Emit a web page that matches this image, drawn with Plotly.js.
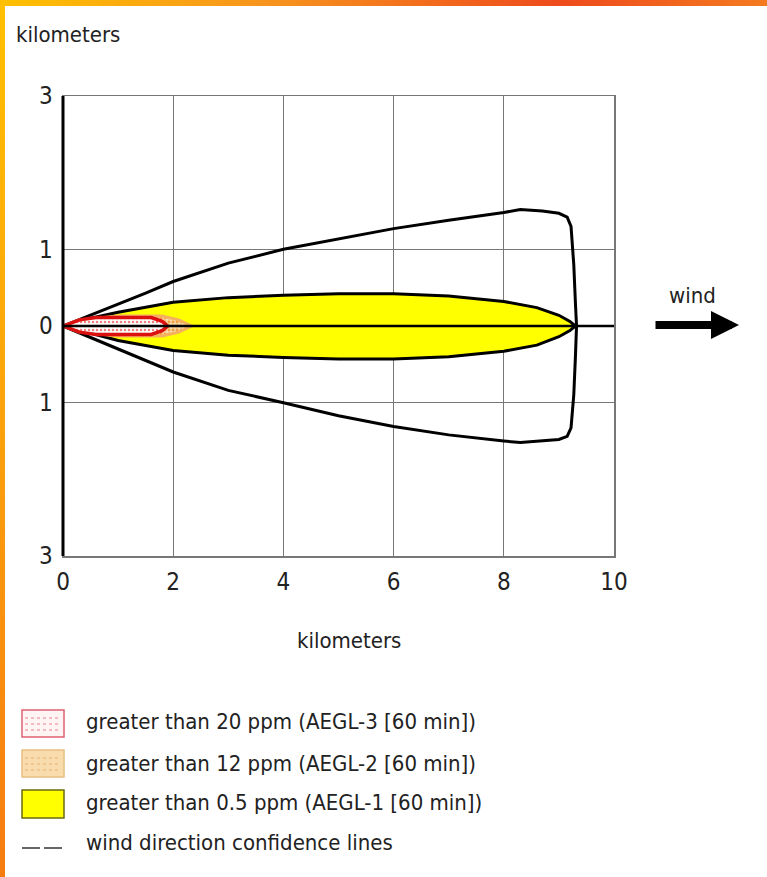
<!DOCTYPE html>
<html>
<head>
<meta charset="utf-8">
<script src="https://cdn.plot.ly/plotly-3.0.1.min.js"></script>
<style>
  html, body { margin: 0; padding: 0; background: #fff; }
  #wrap { position: relative; width: 767px; height: 877px; overflow: hidden; }
  #chart { position: absolute; left: 0; top: 0; width: 767px; height: 877px; }
  #topbar { position: absolute; left: 0; top: 0; width: 767px; height: 6px;
    background: linear-gradient(to right, #ffc000 0%, #f7941d 35%, #ee4a1c 73%, #f47a20 100%); z-index: 5; }
  #leftbar { position: absolute; left: 0; top: 0; width: 5px; height: 877px;
    background: linear-gradient(to bottom, #ffc000 0%, #fba40c 45%, #f67c10 100%); z-index: 5; }
</style>
</head>
<body>
<div id="wrap">
  <div id="chart"></div>
  <div id="topbar"></div>
  <div id="leftbar"></div>
</div>
<script>
// Wind direction confidence lines (closed outline), km
const confX = [0, 0.5, 1, 1.5, 2, 3, 4, 5, 6, 7, 8, 8.3, 8.7, 9.0, 9.15, 9.22, 9.27, 9.3, 9.32, 9.3, 9.27, 9.22, 9.15, 9.0, 8.7, 8.3, 8, 7, 6, 5, 4, 3, 2, 1.5, 1, 0.5, 0];
const confY = [0, 0.14, 0.28, 0.43, 0.58, 0.82, 1.0, 1.14, 1.27, 1.38, 1.48, 1.52, 1.5, 1.47, 1.42, 1.3, 0.8, 0.3, 0, -0.4, -0.9, -1.33, -1.44, -1.48, -1.5, -1.52, -1.5, -1.42, -1.31, -1.17, -1.0, -0.84, -0.6, -0.45, -0.3, -0.15, 0];

// AEGL-1 (> 0.5 ppm) plume
const aegl1X = [0, 0.5, 1, 2, 3, 4, 5, 6, 7, 8, 8.6, 9.0, 9.2, 9.3, 9.2, 9.0, 8.6, 8, 7, 6, 5, 4, 3, 2, 1, 0.5, 0];
const aegl1Y = [0, 0.1, 0.18, 0.31, 0.37, 0.40, 0.42, 0.42, 0.39, 0.32, 0.24, 0.14, 0.06, 0, -0.06, -0.14, -0.25, -0.33, -0.4, -0.43, -0.43, -0.41, -0.38, -0.32, -0.19, -0.1, 0];

// AEGL-2 (> 12 ppm) plume
const aegl2X = [0, 0.3, 1, 1.8, 2.1, 2.34, 2.1, 1.8, 1, 0.3, 0];
const aegl2Y = [0, 0.08, 0.13, 0.13, 0.08, 0, -0.08, -0.13, -0.13, -0.08, 0];

// AEGL-3 (> 20 ppm) plume
const aegl3X = [0, 0.3, 0.6, 1.6, 1.8, 1.9, 1.8, 1.6, 0.6, 0.3, 0];
const aegl3Y = [0, 0.08, 0.11, 0.11, 0.06, 0, -0.06, -0.11, -0.11, -0.08, 0];

// Centerline (wind axis)
const centerX = [0, 10];
const centerY = [0, 0];

// Axis ticks
const xTicks = [0, 2, 4, 6, 8, 10];
const yTickVals = [-3, -1, 0, 1, 3];
const yTickText = ['3', '1', '0', '1', '3'];

// Legend labels
const legendLabels = [
  'greater than 20 ppm (AEGL-3 [60 min])',
  'greater than 12 ppm (AEGL-2 [60 min])',
  'greater than 0.5 ppm (AEGL-1 [60 min])',
  'wind direction confidence lines'
];

const FONT = 'DejaVu Sans Condensed, DejaVu Sans, Verdana, sans-serif';
const TXT = '#222';

const traces = [
  { x: confX, y: confY, mode: 'lines', line: { color: '#000', width: 3 }, hoverinfo: 'skip', showlegend: false },
  { x: aegl1X, y: aegl1Y, mode: 'lines', fill: 'toself', fillcolor: '#ffff00', line: { color: '#000', width: 3 }, hoverinfo: 'skip', showlegend: false },
  { x: aegl2X, y: aegl2Y, mode: 'lines', fill: 'toself', fillcolor: '#f9d9a0',
    fillpattern: { shape: '.', fgcolor: '#f0a040', bgcolor: '#f9dcae', size: 4, solidity: 0.4 },
    line: { color: '#f5b060', width: 3 }, hoverinfo: 'skip', showlegend: false },
  { x: aegl3X, y: aegl3Y, mode: 'lines', fill: 'toself', fillcolor: '#ffffff',
    fillpattern: { shape: '.', fgcolor: '#f08080', bgcolor: '#ffffff', size: 4, solidity: 0.3 },
    line: { color: '#dd1010', width: 3.5 }, hoverinfo: 'skip', showlegend: false },
  { x: centerX, y: centerY, mode: 'lines', line: { color: '#000', width: 2.5 }, hoverinfo: 'skip', showlegend: false, cliponaxis: false }
];

// plot area: left 63, right 614, top 96, bottom 556
const L = 63, R = 614, T = 96, B = 556;
const px = (p) => (p - L) / (R - L);
const py = (p) => (B - p) / (B - T);

const shapes = [];
const annotations = [];

// legend boxes
const boxRows = [
  { y0: 710, y1: 737, fill: '#fff4f4', line: '#e06070' },
  { y0: 750, y1: 777, fill: '#f8dcae', line: '#e8c080' },
  { y0: 790, y1: 818, fill: '#ffff00', line: '#6b6b10' }
];
boxRows.forEach(b => {
  shapes.push({ type: 'rect', xref: 'paper', yref: 'paper', x0: px(22), x1: px(64), y0: py(b.y1), y1: py(b.y0),
    fillcolor: b.fill, line: { color: b.line, width: 1.5 }, layer: 'above' });
});
// dotted pattern hints inside first two boxes
[[718, '#e88090'], [724, '#e88090'], [730, '#e88090'], [758, '#e8b070'], [764, '#e8b070'], [770, '#e8b070']].forEach(r => {
  shapes.push({ type: 'line', xref: 'paper', yref: 'paper', x0: px(25), x1: px(61), y0: py(r[0]), y1: py(r[0]),
    line: { color: r[1], width: 1, dash: 'dot' }, layer: 'above' });
});
// dashes for wind confidence lines
shapes.push({ type: 'line', xref: 'paper', yref: 'paper', x0: px(22), x1: px(40), y0: py(848), y1: py(848), line: { color: '#333', width: 1.5 } });
shapes.push({ type: 'line', xref: 'paper', yref: 'paper', x0: px(44), x1: px(62), y0: py(848), y1: py(848), line: { color: '#333', width: 1.5 } });

const rowY = [721, 763, 802, 842];
legendLabels.forEach((t, i) => {
  annotations.push({ xref: 'paper', yref: 'paper', x: px(84), y: py(rowY[i]), xanchor: 'left', yanchor: 'middle',
    text: t, showarrow: false, font: { family: FONT, size: 22, color: TXT } });
});

// y-axis title at top-left
annotations.push({ xref: 'paper', yref: 'paper', x: px(14), y: py(35), xanchor: 'left', yanchor: 'middle',
  text: 'kilometers', showarrow: false, font: { family: FONT, size: 22, color: TXT } });

// x-axis title
annotations.push({ xref: 'paper', yref: 'paper', x: px(349), y: py(640), xanchor: 'center', yanchor: 'middle',
  text: 'kilometers', showarrow: false, font: { family: FONT, size: 22, color: TXT } });

// wind label and arrow
annotations.push({ xref: 'paper', yref: 'paper', x: px(692), y: py(295), xanchor: 'center', yanchor: 'middle',
  text: 'wind', showarrow: false, font: { family: FONT, size: 22, color: TXT } });
annotations.push({ xref: 'paper', yref: 'paper', x: px(739), y: py(325), axref: 'pixel', ayref: 'pixel', ax: -85, ay: 0,
  text: '', showarrow: true, arrowhead: 2, arrowsize: 0.7, arrowwidth: 8, arrowcolor: '#000', standoff: 0 });

const layout = {
  width: 767, height: 877,
  margin: { l: L, r: 767 - R, t: T, b: 877 - B, pad: 0 },
  paper_bgcolor: '#fff', plot_bgcolor: '#fff',
  showlegend: false,
  font: { family: FONT, size: 22, color: TXT },
  xaxis: {
    range: [0, 10], tickvals: xTicks, ticktext: xTicks.map(String), showgrid: true, gridcolor: '#777', gridwidth: 1,
    zeroline: false, showline: true, linecolor: '#777', linewidth: 1.5, mirror: true, ticks: 'outside', ticklen: 4, tickcolor: 'rgba(0,0,0,0)',
    tickfont: { family: FONT, size: 24, color: TXT },
    fixedrange: true
  },
  yaxis: {
    range: [-3, 3], tickvals: yTickVals, ticktext: yTickText, showgrid: true, gridcolor: '#777', gridwidth: 1,
    zeroline: false, showline: true, linecolor: '#777', linewidth: 1.5, mirror: true, ticks: 'outside', ticklen: 4, tickcolor: 'rgba(0,0,0,0)',
    tickfont: { family: FONT, size: 24, color: TXT }, fixedrange: true
  },
  shapes: shapes.concat([
    { type: 'line', xref: 'paper', yref: 'paper', x0: 0, x1: 0, y0: 0, y1: 1, line: { color: '#000', width: 3 } }
  ]),
  annotations: annotations
};

Plotly.newPlot('chart', traces, layout, { displayModeBar: false, staticPlot: true });
</script>
</body>
</html>
